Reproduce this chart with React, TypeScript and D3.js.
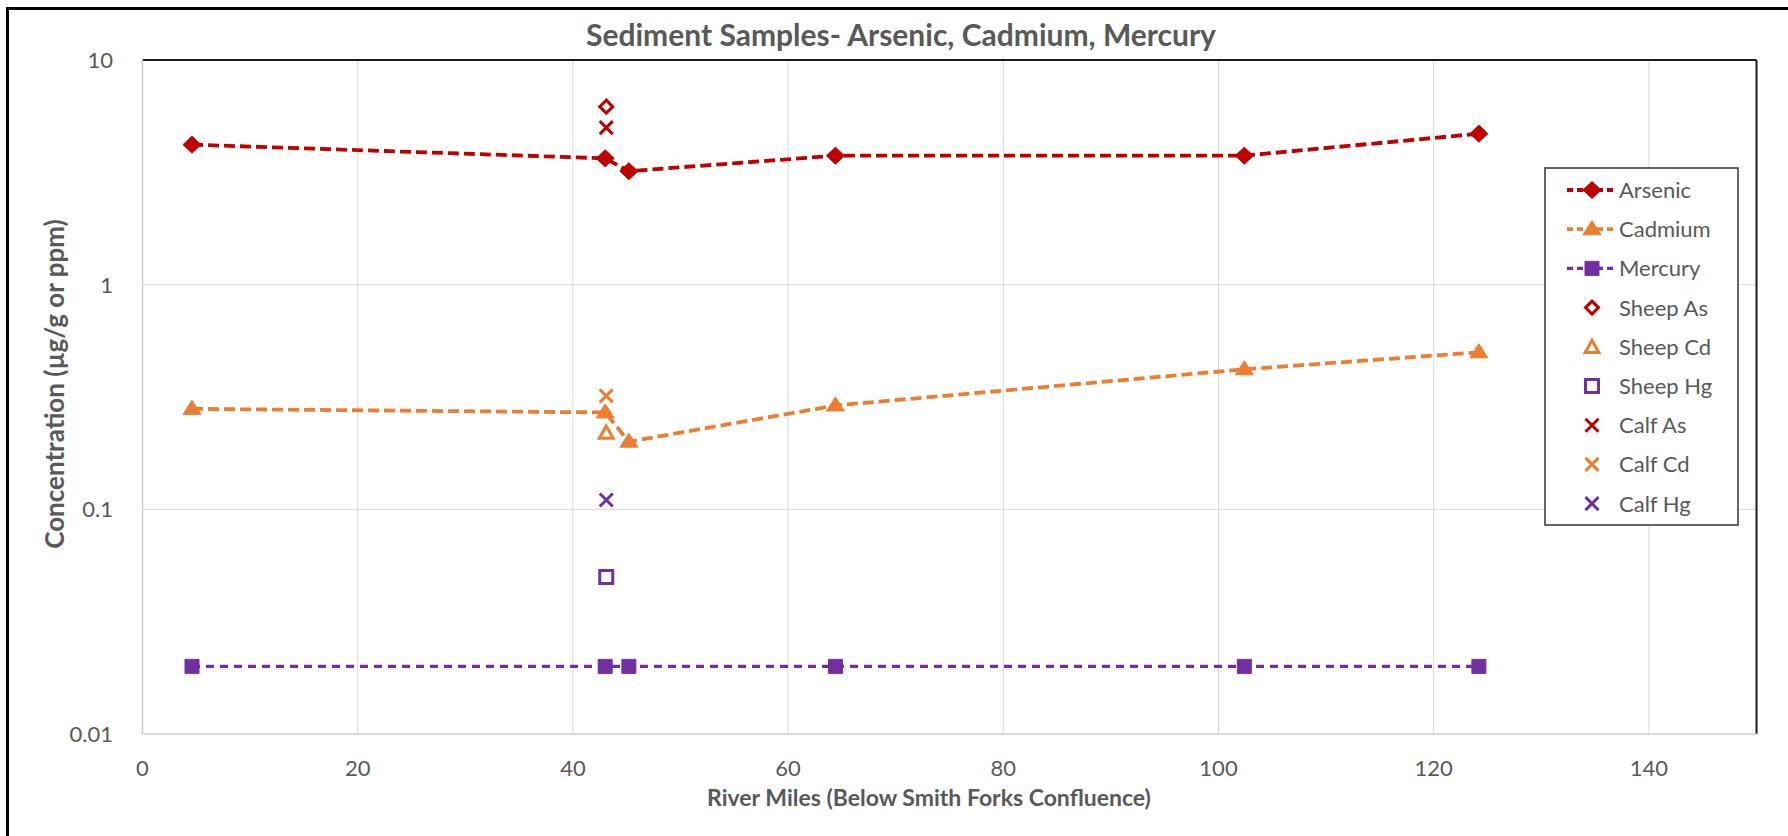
import React from 'react';
import * as d3 from 'd3';

// river miles of the sediment sites
const riverMiles = [4.6, 43, 45.2, 64.4, 102.4, 124.2];
const arsenic = [4.2, 3.65, 3.2, 3.75, 3.75, 4.7];
const cadmium = [0.28, 0.27, 0.2, 0.29, 0.42, 0.5];
const mercury = [0.02, 0.02, 0.02, 0.02, 0.02, 0.02];

// single tissue samples, all at the same site
const tissueMile = [43.1];
const sheepAs = [6.2];
const sheepCd = [0.22];
const sheepHg = [0.05];
const calfAs = [5.0];
const calfCd = [0.32];
const calfHg = [0.11];

const xTicks = [0, 20, 40, 60, 80, 100, 120, 140];
const yTicks = [0.01, 0.1, 1, 10];
const yTickLabels = ['0.01', '0.1', '1', '10'];

const RED = '#C00000';
const ORANGE = '#ED7D31';
const PURPLE = '#7030A0';
const TXT = '#595959';
const FONT = 'Lato, "Open Sans", sans-serif';

const W = 1788, H = 836;
const left = 142.5, right = 1756.5, top = 60, bottom = 734;

// marker shapes, centred on 0,0
const shape = (kind: string) => {
  switch (kind) {
    case 'diamond': return 'M0,-8.5L9,0L0,8.5L-9,0Z';
    case 'odiamond': return 'M0,-6.5L6.5,0L0,6.5L-6.5,0Z';
    case 'triangle': return 'M0,-8.5L9,5.5L-9,5.5Z';
    case 'otriangle': return 'M0,-6.5L6.8,5.8L-6.8,5.8Z';
    case 'square': return 'M-7,-7H7V7H-7Z';
    case 'osquare': return 'M-6.5,-6.5H6.5V6.5H-6.5Z';
    case 'x': return 'M-6.5,-6.5L6.5,6.5M6.5,-6.5L-6.5,6.5';
  }
  return '';
};

const Marker = ({ kind, color, x, y }: any) => {
  const open = kind.startsWith('o') || kind === 'x';
  return (
    <path
      d={shape(kind)}
      transform={`translate(${x},${y})`}
      fill={open ? (kind === 'x' ? 'none' : '#fff') : color}
      stroke={color}
      strokeWidth={open ? 3 : 1}
    />
  );
};

export default function App() {
  const x = d3.scaleLinear().domain([0, 150]).range([left, right]);
  const y = d3.scaleLog().domain([0.01, 10]).range([bottom, top]);

  const lineGen = d3.line<number>()
    .x((_, i) => x(riverMiles[i]))
    .y(d => y(d));

  const lines = [
    { name: 'Arsenic', data: arsenic, color: RED, marker: 'diamond', dash: '11 5', sw: 3.8 },
    { name: 'Cadmium', data: cadmium, color: ORANGE, marker: 'triangle', dash: '11 5', sw: 3.8 },
    { name: 'Mercury', data: mercury, color: PURPLE, marker: 'square', dash: '8 6', sw: 3.3 },
  ];

  const singles = [
    { name: 'Sheep As', data: sheepAs, color: RED, marker: 'odiamond' },
    { name: 'Sheep Cd', data: sheepCd, color: ORANGE, marker: 'otriangle' },
    { name: 'Sheep Hg', data: sheepHg, color: PURPLE, marker: 'osquare' },
    { name: 'Calf As', data: calfAs, color: RED, marker: 'x' },
    { name: 'Calf Cd', data: calfCd, color: ORANGE, marker: 'x' },
    { name: 'Calf Hg', data: calfHg, color: PURPLE, marker: 'x' },
  ];

  const legendItems = [...lines, ...singles];
  const lgX = 1545, lgY = 168, lgW = 193, lgH = 357, lgStep = 39.2;

  return (
    <svg width={W} height={H} style={{ position: 'absolute', left: 0, top: 0, background: '#fff' }}
      fontFamily={FONT}>
      <rect x={0} y={0} width={W} height={H} fill="#fff" />
      {/* outer chart frame, runs off the right and bottom */}
      <rect x={7.5} y={8.5} width={W + 20} height={H + 20} fill="none" stroke="#000" strokeWidth={3} />

      <text x={901} y={46} textAnchor="middle" fontSize={30} fontWeight={700} fill={TXT}>
        Sediment Samples- Arsenic, Cadmium, Mercury
      </text>

      {/* gridlines */}
      {xTicks.filter(t => t > 0).map(t => (
        <line key={'gx' + t} x1={x(t)} x2={x(t)} y1={top} y2={bottom} stroke="#d9d9d9" strokeWidth={1} />
      ))}
      {yTicks.filter(t => t > 0.01 && t < 10).map(t => (
        <line key={'gy' + t} x1={left} x2={right} y1={y(t)} y2={y(t)} stroke="#d9d9d9" strokeWidth={1} />
      ))}

      {/* plot border: dark top/right, grey axes */}
      <line x1={left} x2={right} y1={top} y2={top} stroke="#1a1a1a" strokeWidth={2} />
      <line x1={right} x2={right} y1={top} y2={bottom} stroke="#1a1a1a" strokeWidth={2} />
      <line x1={left} x2={left} y1={top} y2={bottom} stroke="#cfcfcf" strokeWidth={1.5} />
      <line x1={left} x2={right} y1={bottom} y2={bottom} stroke="#cfcfcf" strokeWidth={1.5} />

      {/* tick labels */}
      {yTicks.map((t, i) => (
        <text key={'yt' + t} x={113} y={y(t)} dy="0.36em" textAnchor="end" fontSize={22} fill={TXT}>
          {yTickLabels[i]}
        </text>
      ))}
      {xTicks.map(t => (
        <text key={'xt' + t} x={x(t)} y={776} textAnchor="middle" fontSize={22} fill={TXT}>{t}</text>
      ))}

      {/* axis titles */}
      <text x={929} y={806} textAnchor="middle" fontSize={23} fontWeight={700} fill={TXT}>
        River Miles (Below Smith Forks Confluence)
      </text>
      <text transform={`translate(64,384) rotate(-90)`} textAnchor="middle" fontSize={26} fontWeight={700} fill={TXT}>
        Concentration (µg/g or ppm)
      </text>

      {/* series */}
      {lines.map(s => (
        <g key={s.name}>
          <path d={lineGen(s.data) || ''} fill="none" stroke={s.color} strokeWidth={s.sw} strokeDasharray={s.dash} />
          {s.data.map((v, i) => (
            <Marker key={i} kind={s.marker} color={s.color} x={x(riverMiles[i])} y={y(v)} />
          ))}
        </g>
      ))}
      {singles.map(s => (
        <g key={s.name}>
          {s.data.map((v, i) => (
            <Marker key={i} kind={s.marker} color={s.color} x={x(tissueMile[i])} y={y(v)} />
          ))}
        </g>
      ))}

      {/* legend */}
      <rect x={lgX} y={lgY} width={lgW} height={lgH} fill="#fff" stroke="#333" strokeWidth={1.5} />
      {legendItems.map((s: any, i) => {
        const cy = lgY + 22 + i * lgStep;
        return (
          <g key={'lg' + s.name}>
            {s.dash && (
              <line x1={lgX + 22} x2={lgX + 72} y1={cy} y2={cy} stroke={s.color} strokeWidth={s.sw} strokeDasharray="6 4" />
            )}
            <Marker kind={s.marker} color={s.color} x={lgX + 47} y={cy} />
            <text x={lgX + 74} y={cy} dy="0.36em" fontSize={22} fill={TXT}>{s.name}</text>
          </g>
        );
      })}
    </svg>
  );
}
